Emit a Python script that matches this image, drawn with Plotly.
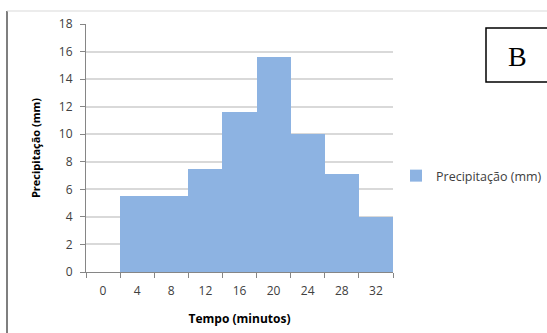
import plotly.graph_objects as go

categories = ["0", "4", "8", "12", "16", "20", "24", "28", "32"]
precip = [None, 5.5, 5.5, 7.5, 11.6, 15.6, 10.0, 7.1, 4.0]
y_ticks = [0, 2, 4, 6, 8, 10, 12, 14, 16, 18]

W, H = 547, 333
L, R, T, B = 86, 393, 24, 272

def px(x):
    return (x - L) / (R - L)

def py(y):
    return (B - y) / (B - T)

fig = go.Figure()
fig.add_trace(go.Bar(
    x=categories, y=precip, name="Precipitação (mm)",
    marker=dict(color="#8DB3E2", line=dict(width=0)),
))

font = "Open Sans, sans-serif"
fig.update_layout(
    width=W, height=H,
    margin=dict(l=L, r=W - R, t=T, b=H - B, pad=0, autoexpand=False),
    paper_bgcolor="white", plot_bgcolor="white",
    bargap=0,
    font=dict(family=font, size=12, color="#404040"),
    showlegend=True,
    legend=dict(x=px(396), y=py(176), xanchor="left", yanchor="middle",
                font=dict(size=12.5, color="#404040"), bgcolor="rgba(0,0,0,0)"),
    xaxis=dict(type="category", categoryorder="array", categoryarray=categories,
               showline=True, linecolor="#868686", linewidth=1,
               ticks="outside", tickson="boundaries", ticklen=5, tickcolor="#868686",
               ticklabelstandoff=8,
               showgrid=False, tickfont=dict(size=12, color="#404040"),
               title=dict(text="<b>Tempo (minutos)</b>", font=dict(size=12, color="#000000"), standoff=16)),
    yaxis=dict(range=[0, 18], tickvals=y_ticks, showline=True, linecolor="#868686", linewidth=1,
               ticks="outside", ticklen=5, tickcolor="#868686",
               ticklabelstandoff=5,
               gridcolor="#D9D9D9", gridwidth=1.5, zeroline=False,
               tickfont=dict(size=12, color="#404040"),
               title=dict(text="<b>Precipitação (mm)</b>", font=dict(size=11, color="#000000"), standoff=16)),
)

# chart area frame (left and top borders)
fig.add_shape(type="line", xref="paper", yref="paper", x0=px(7), x1=px(7), y0=py(11), y1=py(340),
              line=dict(color="#7F7F7F", width=2))
fig.add_shape(type="line", xref="paper", yref="paper", x0=px(7), x1=px(560), y0=py(11), y1=py(11),
              line=dict(color="#D9D9D9", width=1))

# "B" label box
fig.add_shape(type="rect", xref="paper", yref="paper", x0=px(486), x1=px(560), y0=py(82), y1=py(28),
              line=dict(color="black", width=1.5), fillcolor="white")
fig.add_annotation(xref="paper", yref="paper", x=px(517), y=py(56), text="B", showarrow=False,
                   xanchor="center", yanchor="middle",
                   font=dict(family="Liberation Serif, Times New Roman, serif", size=28, color="black"))

fig.write_html("out.html")
